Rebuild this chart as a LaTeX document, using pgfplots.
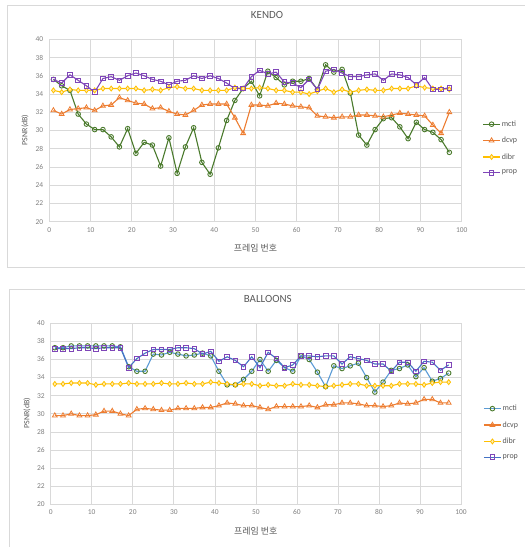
\documentclass[border=0pt]{standalone}
\usepackage{pgfplots}
\pgfplotsset{compat=1.18}
\usepackage{pgfplotstable}
\usepackage{fontspec}
\setmainfont{Carlito}
\newfontfamily\kr{Noto Sans CJK KR}
\definecolor{gridc}{HTML}{D9D9D9}
\definecolor{framec}{HTML}{D9D9D9}
\definecolor{tickc}{HTML}{7F7F7F}
\definecolor{titlec}{HTML}{595959}
\definecolor{cgreen}{HTML}{4A7A2C}
\definecolor{corange}{HTML}{ED7D31}
\definecolor{cyellow}{HTML}{FFC000}
\definecolor{cpurple}{HTML}{7F46B8}
\definecolor{clblue}{HTML}{5B9BD5}
\definecolor{cblue}{HTML}{4472C4}

\pgfplotstableread{
x mcti dcvp dibr prop
1 35.6 32.2 34.4 35.6
3 34.9 31.8 34.2 35.2
5 34.4 32.3 34.5 36.1
7 31.8 32.4 34.4 35.5
9 30.7 32.5 34.4 34.9
11 30.1 32.2 34.4 34.2
13 30.1 32.7 34.6 35.7
15 29.3 32.8 34.6 35.9
17 28.2 33.6 34.6 35.5
19 30.2 33.3 34.6 36.0
21 27.5 33.0 34.6 36.3
23 28.7 32.9 34.4 36.0
25 28.4 32.4 34.5 35.6
27 26.1 32.5 34.4 35.4
29 29.2 32.1 34.7 35.0
31 25.3 31.8 34.8 35.4
33 28.2 31.7 34.6 35.5
35 30.3 32.2 34.6 36.0
37 26.5 32.8 34.4 35.7
39 25.2 32.9 34.4 36.0
41 28.1 32.9 34.4 35.7
43 31.1 32.9 34.4 35.2
45 33.3 31.4 34.7 34.6
47 34.6 29.7 34.6 34.6
49 35.4 32.8 34.6 35.9
51 33.8 32.8 34.7 36.6
53 36.5 32.7 34.6 36.2
55 35.8 33.0 34.4 36.4
57 35.0 32.9 34.4 35.3
59 35.4 32.7 34.2 35.2
61 35.4 32.6 34.2 34.7
63 35.7 32.5 34.0 35.6
65 34.5 31.6 34.3 34.5
67 37.2 31.5 34.6 36.5
69 36.4 31.4 34.2 36.7
71 36.7 31.5 34.5 36.3
73 34.1 31.5 34.2 35.9
75 29.5 31.7 34.4 35.9
77 28.4 31.7 34.5 36.1
79 30.1 31.6 34.4 36.2
81 31.3 31.5 34.4 35.5
83 31.4 31.7 34.6 36.2
85 30.4 31.9 34.6 36.1
87 29.1 31.8 34.6 35.8
89 30.9 31.7 34.9 35.0
91 30.1 31.6 34.7 35.8
93 29.8 30.6 34.6 34.5
95 29.0 29.7 34.6 34.5
97 27.6 32.0 34.5 34.7
}\kendo

\pgfplotstableread{
x mcti dcvp dibr prop
1 37.3 29.8 33.3 37.2
3 37.3 29.8 33.3 37.2
5 37.5 30.0 33.4 37.2
7 37.5 29.8 33.4 37.3
9 37.5 29.8 33.4 37.3
11 37.5 29.9 33.2 37.2
13 37.5 30.3 33.3 37.3
15 37.5 30.3 33.3 37.3
17 37.4 30.0 33.3 37.3
19 35.2 29.8 33.4 35.1
21 34.7 30.5 33.3 36.1
23 34.7 30.6 33.3 36.7
25 36.6 30.5 33.3 37.1
27 36.5 30.4 33.4 37.1
29 36.8 30.4 33.3 37.1
31 36.6 30.6 33.3 37.3
33 36.4 30.6 33.4 37.3
35 36.5 30.6 33.3 37.2
37 36.7 30.7 33.3 36.6
39 36.4 30.7 33.5 36.9
41 34.7 30.9 33.4 35.8
43 33.2 31.2 33.3 36.3
45 33.2 31.1 33.2 35.9
47 33.8 30.9 33.3 35.2
49 34.7 30.9 33.3 36.3
51 36.0 30.7 33.1 35.1
53 34.7 30.5 33.2 36.8
55 35.9 30.8 33.1 36.1
57 35.1 30.8 33.1 35.1
59 34.7 30.8 33.3 35.4
61 36.4 30.8 33.2 36.4
63 36.0 30.9 33.2 36.4
65 34.6 30.7 33.1 36.3
67 33.0 31.0 33.0 36.4
69 35.3 31.0 33.1 36.4
71 35.0 31.2 33.2 35.5
73 35.3 31.2 33.3 36.3
75 35.6 31.1 33.3 36.1
77 34.0 30.9 33.1 35.9
79 32.4 30.9 33.1 35.5
81 33.5 30.8 33.1 35.5
83 34.8 30.9 33.1 34.7
85 35.0 31.2 33.3 35.7
87 35.4 31.1 33.3 35.7
89 34.1 31.2 33.3 34.7
91 35.1 31.6 33.2 35.8
93 33.6 31.6 33.4 35.7
95 33.9 31.2 33.5 34.8
97 34.5 31.2 33.5 35.4
}\balloons

\pgfplotsset{
  chartstyle/.style={
    scale only axis,
    xmin=0, xmax=100, ymin=20, ymax=40,
    xtick={0,10,...,100}, ytick={20,22,...,40},
    grid=major,
    grid style={draw=gridc, line width=0.6bp},
    axis line style={draw=gridc, line width=0.6bp},
    major tick style={draw=none},
    ticklabel style={font=\fontsize{7.5}{8}\selectfont, text=tickc},
    /pgf/number format/assume math mode=true,
    xticklabel style={yshift=-2bp},
    yticklabel style={xshift=-2.5bp},
    title style={font=\fontsize{11}{12}\selectfont, text=titlec, anchor=center},
    xlabel style={font=\kr\fontsize{9}{10}\selectfont, text=titlec, anchor=center},
    ylabel style={font=\fontsize{8}{9}\selectfont, text=titlec, anchor=center, rotate=0},
    legend style={draw=none, fill=none, font=\fontsize{8}{9}\selectfont, text=titlec,
      inner sep=0pt, anchor=west, row sep=7bp, nodes={inner sep=1.2pt}},
    legend cell align=left,
    every axis plot/.append style={line width=1.1bp},
  },
}

\begin{document}
\begin{tikzpicture}[x=1bp,y=1bp]
\useasboundingbox (0,0) rectangle (525,547);
% frames
\draw[framec, line width=0.8bp] (525,542) -- (7,542) -- (7,280) -- (525,280);
\draw[framec, line width=0.8bp] (9.5,0) -- (9.5,258) -- (525,258);

\begin{axis}[chartstyle,
  at={(49.3bp,325.3bp)}, anchor=south west,
  width=412.4bp, height=182.4bp,
  title={KENDO}, title style={at={(0.528,1.100)}},
  xlabel={프레임 번호}, xlabel style={at={(0.5,-0.144)}},
  ylabel={PSNR(dB)}, ylabel style={at={(-0.059,0.503)}},
  legend style={at={(1.05,0.404)}},
]
\addplot[color=cgreen, mark=o, mark size=2.3bp, mark options={fill=white, line width=0.9bp}] table[x=x,y=mcti] {\kendo};
\addlegendentry{mcti}
\addplot[color=corange, mark=triangle, mark size=2.8bp, mark options={fill=white, line width=0.8bp}] table[x=x,y=dcvp] {\kendo};
\addlegendentry{dcvp}
\addplot[color=cyellow, mark=diamond*, mark size=2.5bp, mark options={fill=cyellow!30, line width=0.8bp}] table[x=x,y=dibr] {\kendo};
\addlegendentry{dibr}
\addplot[color=cpurple, mark=square, mark size=2.3bp, mark options={fill=white, line width=0.8bp}] table[x=x,y=prop] {\kendo};
\addlegendentry{prop}
\end{axis}

\begin{axis}[chartstyle,
  at={(50.7bp,42.7bp)}, anchor=south west,
  width=410.3bp, height=181bp,
  title={BALLOONS}, title style={at={(0.529,1.101)}},
  xlabel={프레임 번호}, xlabel style={at={(0.5,-0.146)}},
  ylabel={PSNR(dB)}, ylabel style={at={(-0.058,0.504)}},
  legend style={at={(1.054,0.397)}},
]
\addplot[color=clblue, mark=o, mark size=2.3bp, mark options={draw=cgreen, fill=white, line width=0.9bp}] table[x=x,y=mcti] {\balloons};
\addlegendentry{mcti}
\addplot[color=corange, mark=triangle, mark size=2.8bp, mark options={fill=white, line width=0.8bp}] table[x=x,y=dcvp] {\balloons};
\addlegendentry{dcvp}
\addplot[color=cyellow, mark=diamond*, mark size=2.5bp, mark options={fill=cyellow!30, line width=0.8bp}] table[x=x,y=dibr] {\balloons};
\addlegendentry{dibr}
\addplot[color=cblue, mark=square, mark size=2.3bp, mark options={draw=cpurple, fill=white, line width=0.8bp}] table[x=x,y=prop] {\balloons};
\addlegendentry{prop}
\end{axis}
\end{tikzpicture}
\end{document}
